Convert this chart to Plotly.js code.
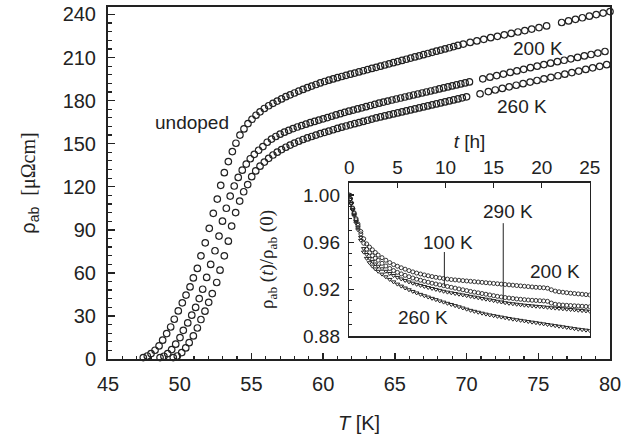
<!DOCTYPE html>
<html>
<head>
<meta charset="utf-8">
<script src="https://cdn.plot.ly/plotly-3.0.1.min.js"></script>
<style>html,body{margin:0;padding:0;background:#fff;}#chart{width:639px;height:434px;}</style>
</head>
<body>
<div id="chart"></div>
<script>
// ---- main panel: rho_ab(T) ----
const undopedT = [47.46,47.74,48.00,48.28,48.56,48.81,49.09,49.37,49.62,49.90,50.18,50.44,50.72,50.95,51.23,51.48,51.78,52.06,52.34,52.62,52.86,53.11,53.39,53.67,53.92,54.20,54.48,54.76,55.04,55.32,55.60,55.90,56.20,56.50,56.80,57.10,57.40,57.70,58.00,58.30,58.60,58.90,59.20,59.50,59.80,60.10,60.40,60.70,61.00,61.30,61.60,61.90,62.20,62.50,62.80,63.10,63.40,63.70,64.00,64.30,64.60,64.90,65.20,65.50,65.80,66.10,66.40,66.70,67.00,67.30,67.60,67.90,68.20,68.50,68.80,69.10,69.40,69.77,70.25,70.72,71.20,71.68,72.15,72.63,73.11,73.58,74.06,74.54,75.05,75.58,76.63,77.11,77.59,78.07,78.56,79.04,79.52,80.00];
const undopedRho = [1.0,2.1,3.8,6.1,9.1,13.1,17.7,22.3,27.7,33.5,39.1,44.5,50.2,56.5,63.1,71.9,80.9,91.0,101.5,111.4,121.0,129.8,137.5,144.5,150.3,156.0,160.3,164.0,167.0,169.8,172.2,174.5,176.4,178.1,179.7,181.2,182.7,184.0,185.3,186.6,187.8,189.0,190.1,191.2,192.3,193.3,194.2,195.1,196.0,196.8,197.6,198.4,199.2,200.0,200.8,201.6,202.4,203.2,204.0,204.8,205.6,206.4,207.2,208.0,208.8,209.6,210.4,211.2,212.0,212.8,213.6,214.4,215.2,216.0,216.8,217.6,218.4,219.4,220.5,221.6,222.7,223.8,224.8,225.8,226.8,227.8,228.8,229.8,230.9,232.0,234.4,235.5,236.6,237.7,238.8,239.9,241.0,242.0];

const k200T = [48.63,48.90,49.16,49.44,49.72,50.02,50.25,50.56,50.84,51.11,51.36,51.60,51.88,52.16,52.46,52.74,52.98,53.25,53.52,53.80,54.08,54.36,54.64,54.92,55.20,55.50,55.80,56.10,56.40,56.70,57.00,57.30,57.60,57.90,58.20,58.50,58.80,59.10,59.40,59.70,60.00,60.30,60.60,60.90,61.20,61.50,61.80,62.10,62.40,62.70,63.00,63.30,63.60,63.90,64.20,64.50,64.80,65.10,65.40,65.70,66.00,66.30,66.60,66.90,67.20,67.50,67.80,68.10,68.40,68.70,69.00,69.30,69.60,69.90,70.20,71.13,71.63,72.10,72.57,73.04,73.51,73.98,74.45,74.92,75.39,75.86,76.33,76.80,77.27,77.74,78.21,78.68,79.15,79.65];
const k200Rho = [1.0,1.9,3.8,6.6,10.3,14.9,20.0,25.1,30.5,35.9,42.1,48.6,56.8,65.9,75.4,85.6,96.0,105.0,113.5,120.5,126.5,131.5,135.8,139.5,142.6,145.4,148.0,151.0,153.2,155.0,156.6,158.0,159.3,160.5,161.6,162.6,163.6,164.6,165.5,166.4,167.3,168.2,169.1,170.0,170.9,171.8,172.6,173.4,174.2,175.0,175.8,176.6,177.4,178.2,179.0,179.7,180.4,181.1,181.8,182.5,183.2,183.9,184.6,185.3,186.0,186.7,187.4,188.1,188.8,189.5,190.2,190.9,191.6,192.3,193.0,195.2,196.3,197.4,198.5,199.6,200.7,201.8,202.9,204.0,205.1,206.1,207.1,208.1,209.1,210.1,211.1,212.1,213.1,214.2];

const k260T = [49.55,49.83,50.14,50.42,50.66,50.95,51.23,51.48,51.76,52.02,52.27,52.58,52.81,53.11,53.39,53.62,53.90,54.18,54.46,54.74,55.02,55.30,55.60,55.90,56.20,56.50,56.80,57.10,57.40,57.70,58.00,58.30,58.60,58.90,59.20,59.50,59.80,60.10,60.40,60.70,61.00,61.30,61.60,61.90,62.20,62.50,62.80,63.10,63.40,63.70,64.00,64.30,64.60,64.90,65.20,65.50,65.80,66.10,66.40,66.70,67.00,67.30,67.60,67.90,68.20,68.50,68.80,69.10,69.40,69.70,70.00,70.94,71.52,72.00,72.49,72.97,73.46,73.94,74.43,74.91,75.40,75.88,76.37,76.85,77.34,77.82,78.31,78.79,79.28,79.77];
const k260Rho = [1.0,2.1,4.5,7.7,11.4,16.1,21.6,27.5,33.3,39.5,45.6,53.3,61.9,71.9,82.1,92.6,102.0,110.0,116.5,121.5,127.0,131.0,134.3,137.2,139.8,142.1,144.1,145.9,147.5,149.0,150.4,151.7,152.9,154.0,155.0,156.0,157.0,157.9,158.8,159.7,160.6,161.5,162.3,163.1,163.9,164.7,165.5,166.3,167.1,167.9,168.6,169.3,170.0,170.7,171.4,172.1,172.8,173.5,174.2,174.9,175.6,176.3,177.0,177.7,178.4,179.1,179.8,180.5,181.2,181.9,182.6,184.7,186.3,187.4,188.5,189.6,190.7,191.8,192.9,194.0,195.1,196.2,197.3,198.4,199.5,200.6,201.7,202.8,203.9,205.0];

// ---- inset: rho_ab(t)/rho_ab(0) ----
const tHours = [0,0.1,0.2,0.35,0.5,0.7,0.9,1.2,1.5,1.8,2.1,2.4,2.7,3.0,3.4,3.8,4.2,4.6,5.0,5.4,5.8,6.2,6.6,7.0,7.4,7.8,8.2,8.6,9.0,9.4,9.8,10.2,10.6,11.0,11.4,11.8,12.2,12.6,13.0,13.4,13.8,14.2,14.6,15.0,15.4,15.8,16.2,16.6,17.0,17.4,17.8,18.2,18.6,19.0,19.4,19.8,20.2,20.6,21.0,21.4,21.8,22.2,22.6,23.0,23.4,23.8,24.2,24.6,25.0];
const ratio200K = [1.000,0.9970,0.9935,0.9890,0.9850,0.9800,0.9755,0.9690,0.9628,0.9585,0.9558,0.9535,0.9512,0.9490,0.9468,0.9446,0.9426,0.9409,0.9395,0.9382,0.9370,0.9358,0.9347,0.9337,0.9329,0.9321,0.9314,0.9307,0.9301,0.9296,0.9291,0.9286,0.9282,0.9279,0.9276,0.9273,0.9270,0.9267,0.9264,0.9261,0.9258,0.9255,0.9252,0.9249,0.9246,0.9243,0.9240,0.9237,0.9234,0.9231,0.9228,0.9225,0.9222,0.9219,0.9216,0.9214,0.9212,0.9208,0.9195,0.9184,0.9178,0.9174,0.9170,0.9166,0.9163,0.9160,0.9157,0.9154,0.9151];
const ratio100K = [1.000,0.9968,0.9932,0.9885,0.9842,0.9790,0.9742,0.9670,0.9590,0.9540,0.9510,0.9485,0.9463,0.9446,0.9420,0.9397,0.9376,0.9358,0.9343,0.9330,0.9318,0.9306,0.9295,0.9285,0.9276,0.9267,0.9259,0.9251,0.9244,0.9237,0.9230,0.9223,0.9216,0.9209,0.9202,0.9195,0.9188,0.9181,0.9175,0.9169,0.9163,0.9157,0.9151,0.9145,0.9139,0.9134,0.9129,0.9125,0.9121,0.9117,0.9114,0.9111,0.9108,0.9106,0.9104,0.9102,0.9100,0.9097,0.9082,0.9072,0.9068,0.9065,0.9063,0.9061,0.9059,0.9057,0.9055,0.9053,0.9051];
const ratio290K = [1.000,0.9965,0.9928,0.9878,0.9832,0.9776,0.9722,0.9640,0.9545,0.9495,0.9462,0.9436,0.9414,0.9395,0.9373,0.9352,0.9333,0.9316,0.9300,0.9287,0.9274,0.9262,0.9251,0.9241,0.9232,0.9223,0.9214,0.9206,0.9198,0.9190,0.9182,0.9175,0.9169,0.9163,0.9157,0.9151,0.9145,0.9139,0.9133,0.9127,0.9121,0.9115,0.9109,0.9103,0.9097,0.9091,0.9085,0.9080,0.9076,0.9072,0.9068,0.9064,0.9061,0.9058,0.9055,0.9052,0.9049,0.9046,0.9042,0.9039,0.9036,0.9033,0.9030,0.9027,0.9024,0.9021,0.9018,0.9015,0.9012];
const ratio260K = [1.000,0.9963,0.9925,0.9872,0.9823,0.9763,0.9705,0.9615,0.9515,0.9462,0.9425,0.9396,0.9372,0.9352,0.9328,0.9305,0.9283,0.9262,0.9243,0.9226,0.9210,0.9195,0.9181,0.9168,0.9156,0.9144,0.9133,0.9122,0.9111,0.9100,0.9090,0.9080,0.9070,0.9060,0.9050,0.9040,0.9030,0.9020,0.9012,0.9004,0.8996,0.8988,0.8981,0.8975,0.8969,0.8963,0.8957,0.8951,0.8945,0.8940,0.8935,0.8930,0.8925,0.8920,0.8915,0.8910,0.8905,0.8900,0.8895,0.8890,0.8885,0.8880,0.8875,0.8870,0.8865,0.8860,0.8856,0.8852,0.8848];

const INK = '#222';
const mainMarker = {symbol:'circle-open', size:6.5, color:INK, line:{width:1.2, color:INK}};
const insetCircle = {symbol:'circle-open', size:4, color:INK, line:{width:0.9, color:INK}};
const insetTri = {symbol:'triangle-down-open', size:4, color:INK, line:{width:1, color:INK}};

const traces = [
  {x:undopedT, y:undopedRho, mode:'markers', marker:mainMarker, cliponaxis:false, xaxis:'x', yaxis:'y'},
  {x:k200T, y:k200Rho, mode:'markers', marker:mainMarker, cliponaxis:false, xaxis:'x', yaxis:'y'},
  {x:k260T, y:k260Rho, mode:'markers', marker:mainMarker, cliponaxis:false, xaxis:'x', yaxis:'y'},
  {x:tHours, y:ratio200K, mode:'markers', marker:insetCircle, xaxis:'x2', yaxis:'y2'},
  {x:tHours, y:ratio100K, mode:'markers', marker:insetCircle, xaxis:'x2', yaxis:'y2'},
  {x:tHours, y:ratio290K, mode:'markers', marker:insetTri, xaxis:'x2', yaxis:'y2'},
  {x:tHours, y:ratio260K, mode:'markers', marker:insetTri, xaxis:'x2', yaxis:'y2'}
];

const sans = 'Liberation Sans, Arial, Helvetica, sans-serif';
const serif = 'Liberation Serif, Times New Roman, serif';

const layout = {
  width:639, height:434,
  margin:{l:108, r:29, t:7, b:75},
  paper_bgcolor:'#fff', plot_bgcolor:'#fff',
  showlegend:false,
  font:{family:sans, size:19, color:INK},
  xaxis:{
    domain:[0,1], range:[45,80], tick0:45, dtick:5,
    ticks:'inside', ticklen:6, tickwidth:1.5, tickcolor:INK,
    showline:true, linewidth:2, linecolor:INK, mirror:true,
    showgrid:false, zeroline:false,
    tickfont:{size:20, color:INK}, ticklabelstandoff:6,
    minor:{dtick:1, ticks:'inside', ticklen:3, tickwidth:1.2, tickcolor:INK, showgrid:false},
    title:{text:'<i>T</i> [K]', font:{size:20, color:INK}, standoff:23}
  },
  yaxis:{
    domain:[0,1], range:[0,245.2], tick0:0, dtick:30,
    ticks:'inside', ticklen:7, tickwidth:1.5, tickcolor:INK,
    showline:true, linewidth:2, linecolor:INK, mirror:true,
    showgrid:false, zeroline:false,
    tickfont:{size:20, color:INK}, ticklabelstandoff:6,
    minor:{dtick:6, ticks:'inside', ticklen:4, tickwidth:1.2, tickcolor:INK, showgrid:false},
    title:{text:'ρ<sub>ab</sub>  <span style="font-family:Liberation Serif">[μΩcm]</span>', font:{size:20, color:INK}, standoff:22}
  },
  xaxis2:{
    domain:[0.4807,0.9598], anchor:'y2', side:'top', range:[0,25], tick0:0, dtick:5,
    ticks:'inside', ticklen:5, tickwidth:1.2, tickcolor:INK,
    showline:true, linewidth:1.5, linecolor:INK, mirror:true,
    showgrid:false, zeroline:false,
    tickfont:{size:19, color:INK}, ticklabelstandoff:0,
    title:{text:'<i>t</i> [h]', font:{size:19, color:INK}, standoff:3}
  },
  yaxis2:{
    domain:[0.0646,0.5009], anchor:'x2', range:[0.88,1.0105], tick0:0.88, dtick:0.04, tickformat:'.2f',
    ticks:'inside', ticklen:5, tickwidth:1.2, tickcolor:INK,
    showline:true, linewidth:1.5, linecolor:INK, mirror:true,
    showgrid:false, zeroline:false,
    tickfont:{size:19, color:INK}, ticklabelstandoff:4,
    minor:{dtick:0.01, ticks:'inside', ticklen:3, tickwidth:1, tickcolor:INK, showgrid:false},
    title:{text:'ρ<sub>ab</sub> (<i>t</i>)/ρ<sub>ab</sub> (0)', font:{family:serif, size:19, color:INK}, standoff:24}
  },
  annotations:[
    {xref:'x', yref:'y', x:50.86, y:164.5, text:'undoped', showarrow:false, font:{size:19}},
    {xref:'x', yref:'y', x:74.98, y:216.1, text:'200 K', showarrow:false, font:{size:19}},
    {xref:'x', yref:'y', x:73.86, y:175.7, text:'260 K', showarrow:false, font:{size:19}},
    {xref:'x2', yref:'y2', x:16.5, y:0.9864, text:'290 K', showarrow:false, font:{size:19}},
    {xref:'x2', yref:'y2', x:10.26, y:0.9593, text:'100 K', showarrow:false, font:{size:19}},
    {xref:'x2', yref:'y2', x:21.38, y:0.9354, text:'200 K', showarrow:false, font:{size:19}},
    {xref:'x2', yref:'y2', x:7.66, y:0.8962, text:'260 K', showarrow:false, font:{size:19}}
  ],
  shapes:[
    {type:'line', xref:'x2', yref:'y2', x0:9.88, x1:9.88, y0:0.9516, y1:0.9226, line:{color:INK, width:1}},
    {type:'line', xref:'x2', yref:'y2', x0:16.0, x1:16.0, y0:0.9761, y1:0.9079, line:{color:INK, width:1}}
  ]
};

Plotly.newPlot('chart', traces, layout, {displayModeBar:false, staticPlot:true});
</script>
</body>
</html>
